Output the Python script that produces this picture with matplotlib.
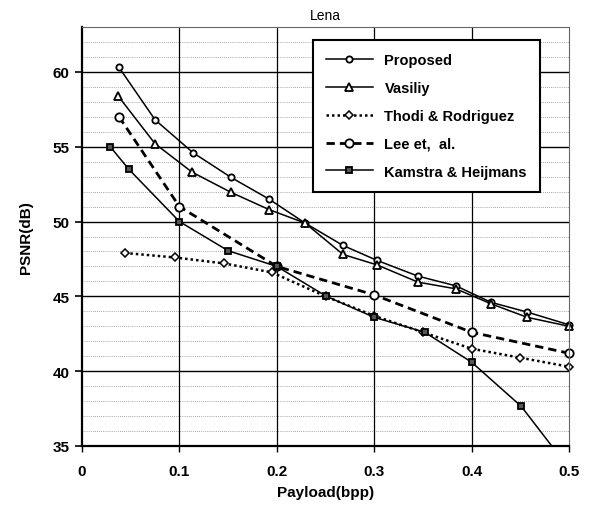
import matplotlib
matplotlib.use('Agg')
import matplotlib.pyplot as plt

plt.rcParams['font.family'] = ['Liberation Sans', 'DejaVu Sans']

# ---------------------------------------------------------
# data (payload in bpp, PSNR in dB)

prop_x = [0.038, 0.075, 0.114, 0.153, 0.192, 0.229, 0.268, 0.303, 0.345, 0.384, 0.42, 0.457, 0.5]
prop_y = [60.3, 56.8, 54.6, 52.95, 51.5, 49.9, 48.4, 47.4, 46.35, 45.7, 44.6, 43.95, 43.1]

vas_x = [0.037, 0.075, 0.113, 0.153, 0.192, 0.229, 0.268, 0.303, 0.345, 0.384, 0.42, 0.457, 0.5]
vas_y = [58.4, 55.2, 53.3, 51.95, 50.8, 49.9, 47.8, 47.1, 45.95, 45.5, 44.5, 43.6, 43.0]

thodi_x = [0.044, 0.095, 0.146, 0.195, 0.25, 0.3, 0.35, 0.4, 0.45, 0.5]
thodi_y = [47.9, 47.6, 47.2, 46.6, 45.0, 43.7, 42.6, 41.5, 40.9, 40.3]

lee_x = [0.038, 0.1, 0.2, 0.3, 0.4, 0.5]
lee_y = [57.0, 51.0, 47.0, 45.1, 42.6, 41.2]

kam_x = [0.029, 0.048, 0.1, 0.15, 0.2, 0.251, 0.3, 0.352, 0.4, 0.451, 0.5]
kam_y = [55.0, 53.5, 50.0, 48.05, 47.0, 45.0, 43.6, 42.6, 40.6, 37.65, 33.5]

x_ticks = [0, 0.1, 0.2, 0.3, 0.4, 0.5]
x_tick_labels = ['0', '0.1', '0.2', '0.3', '0.4', '0.5']
y_ticks = [35, 40, 45, 50, 55, 60]

# ---------------------------------------------------------

fig = plt.figure(figsize=(5.92, 5.06), dpi=100)
ax = fig.add_axes([82/592, 1 - 447/506, (569-82)/592, (447-28)/506])

ax.set_xlim(0, 0.5)
ax.set_ylim(35, 63)

# grid: dotted every 1 dB, solid every 5 dB, vertical every 0.1
for yv in range(36, 63):
    if yv % 5:
        ax.axhline(yv, color='#888888', linewidth=0.6, linestyle=(0, (1, 1.5)), zorder=0)
for yv in y_ticks[1:]:
    ax.axhline(yv, color='black', linewidth=1.0, zorder=0)
for xv in x_ticks[1:-1]:
    ax.axvline(xv, color='black', linewidth=0.9, zorder=0)

ax.plot(prop_x, prop_y, color='black', linewidth=1.1, marker='o', markersize=4.5,
        markerfacecolor='white', markeredgewidth=1.3, label='Proposed', clip_on=False)
ax.plot(vas_x, vas_y, color='black', linewidth=1.1, marker='^', markersize=6,
        markerfacecolor='white', markeredgewidth=1.3, label='Vasiliy', clip_on=False)
ax.plot(thodi_x, thodi_y, color='black', linewidth=1.8, linestyle=(0, (1, 1.2)), marker='D',
        markersize=4, markerfacecolor='white', markeredgewidth=1.1, label='Thodi & Rodriguez', clip_on=False)
ax.plot(lee_x, lee_y, color='black', linewidth=2.0, linestyle=(0, (3, 1.8)), marker='o',
        markersize=6, markerfacecolor='white', markeredgewidth=1.3, label='Lee et,  al.', clip_on=False)
ax.plot(kam_x, kam_y, color='black', linewidth=1.1, marker='s', markersize=4.5,
        markerfacecolor='#555555', markeredgewidth=1.3, label='Kamstra & Heijmans')

ax.set_xticks(x_ticks)
ax.set_xticklabels(x_tick_labels)
ax.set_yticks(y_ticks)
ax.tick_params(axis='y', direction='out', length=5, width=1.2, labelsize=11, pad=4)
ax.tick_params(axis='x', direction='out', length=4, width=1.0, labelsize=11, pad=9)
for lbl in ax.get_xticklabels() + ax.get_yticklabels():
    lbl.set_fontweight('bold')

for side in ['left', 'bottom']:
    ax.spines[side].set_linewidth(1.6)
for side in ['right', 'top']:
    ax.spines[side].set_linewidth(0.8)
    ax.spines[side].set_color('#666666')

ax.set_title('Lena', fontsize=10, pad=6)
ax.set_xlabel('Payload(bpp)', fontsize=11, fontweight='bold', labelpad=5)
ax.set_ylabel('PSNR(dB)', fontsize=11, fontweight='bold', labelpad=14)

leg = ax.legend(loc='upper left', bbox_to_anchor=((313-82)/487, 1 - (41-28)/419), fancybox=False,
                framealpha=1, edgecolor='black', prop={'weight': 'bold', 'size': 10.5},
                handlelength=3.2, labelspacing=0.95, borderpad=0.9, borderaxespad=0)
leg.get_frame().set_linewidth(1.5)

fig.savefig('out.png', dpi=100)
